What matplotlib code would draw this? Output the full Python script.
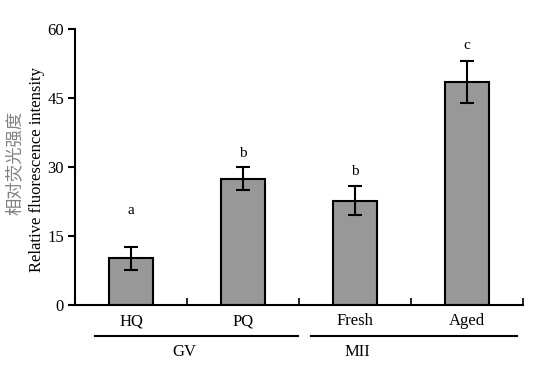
import matplotlib.pyplot as plt
import numpy as np

groups = ['HQ', 'PQ', 'Fresh', 'Aged']
values = [10.2, 27.5, 22.7, 48.5]
errors = [2.5, 2.4, 3.2, 4.5]
letters = ['a', 'b', 'b', 'c']
letter_y = [20.6, 32.9, 29.0, 56.5]
yticks = [0, 15, 30, 45, 60]

plt.rcParams['font.family'] = ['Liberation Serif', 'Noto Sans CJK SC']

fig = plt.figure(figsize=(5.36, 3.66), dpi=100)
ax = fig.add_axes([0.140, 0.1667, 0.836, 0.754])

x = np.arange(len(groups)) + 0.5
ax.bar(x, values, width=0.39, color='#989898', edgecolor='black', linewidth=1.5, zorder=2)
ax.errorbar(x, values, yerr=errors, fmt='none', ecolor='black', elinewidth=1.5,
            capsize=5, capthick=1.5, zorder=3)
for xi, t, ly in zip(x, letters, letter_y):
    ax.text(xi, ly, t, ha='center', va='center', fontsize=11)

ax.set_xlim(0, 4)
ax.set_ylim(0, 60)
ax.set_yticks(yticks)
ax.tick_params(axis='y', direction='out', length=5, width=1.5, labelsize=12, pad=3)
ax.set_xticks([1, 2, 3, 4])
ax.set_xticklabels([])
ax.tick_params(axis='x', which='major', direction='in', length=5, width=1.2)
ax.set_xticks(x, minor=True)
ax.set_xticklabels(groups, minor=True, fontsize=12)
ax.tick_params(axis='x', which='minor', length=0, pad=6)

for s in ['top', 'right']:
    ax.spines[s].set_visible(False)
for s in ['left', 'bottom']:
    ax.spines[s].set_linewidth(1.5)

# y labels (English and Chinese side by side)
fig.text(37/536, 1-170/366, 'Relative fluorescence intensity', rotation=90,
         ha='center', va='center', fontsize=12)
fig.text(15/536, 1-163/366, '相对荧光强度', rotation=90, ha='center', va='center',
         fontsize=12.5, color='#808080', family='Noto Sans CJK SC')

# group lines below the axis
fig.add_artist(plt.Line2D([95/536, 298/536], [1-336/366, 1-336/366], color='black', lw=1.5))
fig.add_artist(plt.Line2D([311/536, 517/536], [1-336/366, 1-336/366], color='black', lw=1.5))
fig.text(184/536, 1-352/366, 'GV', ha='center', va='center', fontsize=12)
fig.text(357/536, 1-352/366, 'MII', ha='center', va='center', fontsize=12)

fig.savefig('out.png', dpi=100)
